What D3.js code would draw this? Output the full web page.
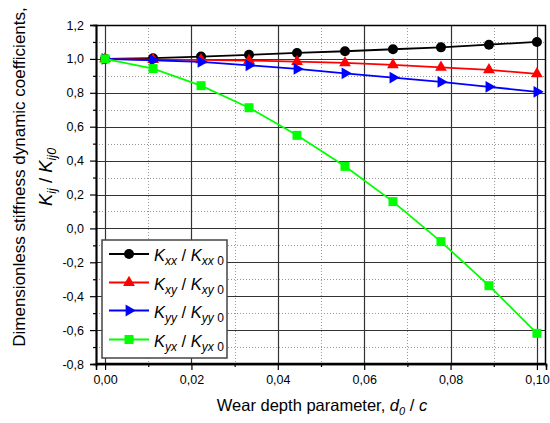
<!DOCTYPE html>
<html><head><meta charset="utf-8">
<script src="https://cdn.jsdelivr.net/npm/d3@7"></script>
<style>body{margin:0;background:#fff}svg{display:block;font-family:"Liberation Sans",Arial,sans-serif}</style>
</head><body>
<svg id="c" width="550" height="423"></svg>
<script>
const xValues = [0, 1/90, 2/90, 3/90, 4/90, 5/90, 6/90, 7/90, 8/90, 0.1];
const kxx = [1.0, 1.004, 1.014, 1.024, 1.035, 1.045, 1.057, 1.068, 1.084, 1.100];
const kxy = [1.0, 0.996, 0.994, 0.990, 0.984, 0.976, 0.965, 0.950, 0.935, 0.912];
const kyy = [1.0, 0.992, 0.982, 0.962, 0.941, 0.915, 0.890, 0.864, 0.835, 0.806];
const kyx = [1.0, 0.943, 0.842, 0.712, 0.549, 0.366, 0.158, -0.078, -0.338, -0.619];
const xTicks = [0, 0.02, 0.04, 0.06, 0.08, 0.10];
const xMinor = [0.01, 0.03, 0.05, 0.07, 0.09];
const yTicks = [-0.8, -0.6, -0.4, -0.2, 0, 0.2, 0.4, 0.6, 0.8, 1.0, 1.2];
const yMinor = [-0.7, -0.5, -0.3, -0.1, 0.1, 0.3, 0.5, 0.7, 0.9, 1.1];
const seriesNames = [["xx","xx"],["xy","xy"],["yy","yy"],["yx","yx"]];
const seriesColors = ["#000000","#ff0000","#0000ff","#00ff00"];
const seriesShapes = ["circle","triangle","triRight","square"];

const svg = d3.select("#c");
const L=96,R=546,T=25,B=364;
const x = d3.scaleLinear().domain([-0.0021,0.1021]).range([L,R]);
const y = d3.scaleLinear().domain([-0.8,1.2]).range([B,T]);
const fmt = (d,n)=>d.toFixed(n).replace(".",",");

// minor grid dotted
const g = svg.append("g");
g.selectAll(".mx").data(xMinor).join("line")
 .attr("x1",d=>Math.round(x(d))+0.5).attr("x2",d=>Math.round(x(d))+0.5).attr("y1",T).attr("y2",B)
 .attr("stroke","#999").attr("stroke-dasharray","1,2");
g.selectAll(".my").data(yMinor).join("line")
 .attr("y1",d=>Math.round(y(d))+0.5).attr("y2",d=>Math.round(y(d))+0.5).attr("x1",L).attr("x2",R)
 .attr("stroke","#999").attr("stroke-dasharray","1,2");
// major grid
g.selectAll(".Mx").data(xTicks).join("line")
 .attr("x1",d=>Math.round(x(d))+0.5).attr("x2",d=>Math.round(x(d))+0.5).attr("y1",T).attr("y2",B)
 .attr("stroke","#333").attr("stroke-width",1.2);
g.selectAll(".My").data(yTicks).join("line")
 .attr("y1",d=>Math.round(y(d))+0.5).attr("y2",d=>Math.round(y(d))+0.5).attr("x1",L).attr("x2",R)
 .attr("stroke","#333").attr("stroke-width",1.2);

// frame
svg.append("rect").attr("x",L+0.5).attr("y",T+0.5).attr("width",R-L-1).attr("height",B-T-1)
 .attr("fill","none").attr("stroke","#000").attr("stroke-width",1.5);

// axes
const xAxis = svg.append("g").attr("transform",`translate(0,${B})`)
 .call(d3.axisBottom(x).tickValues(xTicks).tickSize(6).tickPadding(5).tickFormat(d=>fmt(d,2)));
const xAxisMinor = svg.append("g").attr("transform",`translate(0,${B})`)
 .call(d3.axisBottom(x).tickValues(xMinor).tickSize(3).tickFormat(""));
const yAxis = svg.append("g").attr("transform",`translate(${L},0)`)
 .call(d3.axisLeft(y).tickValues(yTicks).tickSize(6).tickPadding(6).tickFormat(d=>fmt(d,1)));
const yAxisMinor = svg.append("g").attr("transform",`translate(${L},0)`)
 .call(d3.axisLeft(y).tickValues(yMinor).tickSize(3).tickFormat(""));
[xAxis,xAxisMinor,yAxis,yAxisMinor].forEach(a=>{
  a.select(".domain").attr("stroke","#000").attr("stroke-width",1.5);
  a.selectAll(".tick line").attr("stroke","#000").attr("stroke-width",1.2);
  a.selectAll("text").attr("font-family","Liberation Sans, Arial, sans-serif").attr("font-size",12.5).attr("fill","#000");
});

// series
const sets=[kxx,kxy,kyy,kyx];
function marker(sel, shape, color){
  if(shape==="circle") sel.append("circle").attr("r",5).attr("fill",color);
  else if(shape==="triangle") sel.append("path").attr("d",d3.symbol(d3.symbolTriangle,60)()).attr("fill",color);
  else if(shape==="triRight") sel.append("path").attr("d",d3.symbol(d3.symbolTriangle,60)()).attr("transform","rotate(90)").attr("fill",color);
  else sel.append("rect").attr("x",-4.5).attr("y",-4.5).attr("width",9).attr("height",9).attr("fill",color);
}
const line = d3.line().x(d=>x(d[0])).y(d=>y(d[1]));
sets.forEach((vals,i)=>{
  const pts = xValues.map((xv,j)=>[xv,vals[j]]);
  svg.append("path").datum(pts).attr("d",line).attr("fill","none")
   .attr("stroke",seriesColors[i]).attr("stroke-width",1.8);
  pts.forEach(p=>{
    const m = svg.append("g").attr("transform",`translate(${x(p[0])},${y(p[1])})`);
    marker(m, seriesShapes[i], seriesColors[i]);
  });
});

// legend
const lg = svg.append("g");
lg.append("rect").attr("x",102).attr("y",240).attr("width",125).attr("height",118)
 .attr("fill","#fff").attr("stroke","#444").attr("stroke-width",1.5);
const legY=[254,282.5,310.5,339.5];
seriesNames.forEach((nm,i)=>{
  lg.append("line").attr("x1",109).attr("x2",149).attr("y1",legY[i]).attr("y2",legY[i])
   .attr("stroke",seriesColors[i]).attr("stroke-width",1.8);
  const m = lg.append("g").attr("transform",`translate(129,${legY[i]})`);
  marker(m, seriesShapes[i], seriesColors[i]);
  const t = lg.append("text").attr("x",154).attr("y",legY[i]+7).attr("font-size",16.5).attr("fill","#000");
  t.append("tspan").attr("font-style","italic").text("K");
  t.append("tspan").attr("font-style","italic").attr("font-size",12).attr("dy",4).text(nm[0]);
  t.append("tspan").attr("dy",-4).text(" / ");
  t.append("tspan").attr("font-style","italic").text("K");
  t.append("tspan").attr("font-style","italic").attr("font-size",12).attr("dy",4).text(nm[1]);
  t.append("tspan").attr("font-size",12).text(" 0");
});

// x title
const xt = svg.append("text").attr("x",322).attr("y",411).attr("text-anchor","middle").attr("font-size",16.5).attr("fill","#000");
xt.append("tspan").text("Wear depth parameter, ");
xt.append("tspan").attr("font-style","italic").text("d");
xt.append("tspan").attr("font-style","italic").attr("font-size",11).attr("dy",4).text("0");
xt.append("tspan").attr("dy",-4).text(" / ");
xt.append("tspan").attr("font-style","italic").text("c");

// y title
const yt = svg.append("g").attr("transform","translate(0,177) rotate(-90)");
yt.append("text").attr("x",0).attr("y",25).attr("text-anchor","middle").attr("font-size",17).attr("fill","#000")
 .text("Dimensionless stiffness dynamic coefficients,");
const yt2 = yt.append("text").attr("x",0).attr("y",52).attr("text-anchor","middle").attr("font-size",18.5).attr("fill","#000");
yt2.append("tspan").attr("font-style","italic").text("K");
yt2.append("tspan").attr("font-style","italic").attr("font-size",12.5).attr("dy",4).text("ij");
yt2.append("tspan").attr("dy",-4).text(" / ");
yt2.append("tspan").attr("font-style","italic").text("K");
yt2.append("tspan").attr("font-style","italic").attr("font-size",12.5).attr("dy",4).text("ij0");
</script>
</body></html>
